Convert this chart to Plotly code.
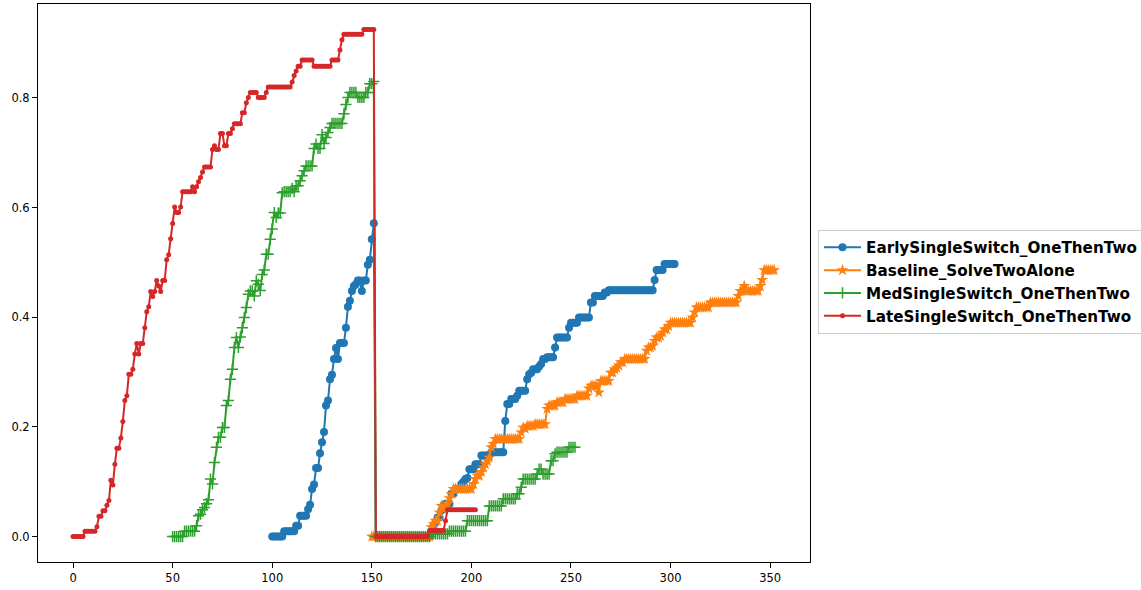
import plotly.graph_objects as go

# ---------------- data ----------------
# x positions are consecutive integers starting at each series' first x
early_x0 = 100
early_y = [
    0, 0, 0, 0, 0, 0, 0.01, 0.01, 0.01, 0.01,                                  # 100
    0.01, 0.01, 0.02, 0.02, 0.038, 0.038, 0.038, 0.038, 0.05, 0.058,            # 110
    0.087, 0.095, 0.125, 0.125, 0.152, 0.172, 0.191, 0.239, 0.248, 0.287,       # 120
    0.295, 0.324, 0.344, 0.324, 0.353, 0.353, 0.353, 0.381, 0.419, 0.43,        # 130
    0.448, 0.457, 0.46, 0.467, 0.467, 0.448, 0.467, 0.467, 0.4957, 0.505,       # 140
    0.5425, 0.5716,                                                             # 150
    0, 0, 0, 0, 0, 0, 0, 0,                                                     # 152
    0, 0, 0, 0, 0, 0, 0, 0, 0, 0,                                               # 160
    0, 0, 0, 0, 0, 0, 0, 0, 0, 0,                                               # 170
    0.01, 0.02, 0.026, 0.035, 0.035, 0.048, 0.057, 0.06, 0.06, 0.06,            # 180
    0.078, 0.078, 0.087, 0.087, 0.087, 0.096, 0.1, 0.105, 0.107, 0.123,         # 190
    0.123, 0.123, 0.132, 0.132, 0.132, 0.148, 0.148, 0.148, 0.148, 0.148,       # 200
    0.154, 0.154, 0.154, 0.154, 0.154, 0.154, 0.154, 0.211, 0.242, 0.242,       # 210
    0.251, 0.251, 0.251, 0.257, 0.266, 0.266, 0.266, 0.266, 0.287, 0.296,       # 220
    0.299, 0.305, 0.305, 0.305, 0.31, 0.315, 0.324, 0.324, 0.327, 0.327,       # 230
    0.327, 0.327, 0.345, 0.363, 0.363, 0.363, 0.363, 0.363, 0.363, 0.381,       # 240
    0.39, 0.39, 0.39, 0.39, 0.3997, 0.3997, 0.3997, 0.3997, 0.3997, 0.3997,     # 250
    0.427, 0.427, 0.439, 0.439, 0.439, 0.439, 0.439, 0.445, 0.445, 0.4495,      # 260
    0.4495, 0.4495, 0.4495, 0.4495, 0.4495, 0.4495, 0.4495, 0.4495, 0.4495, 0.4495,  # 270
    0.4495, 0.4495, 0.4495, 0.4495, 0.4495, 0.4495, 0.4495, 0.4495, 0.4495, 0.4495,  # 280
    0.4495, 0.4495, 0.468, 0.486, 0.486, 0.486, 0.486, 0.497, 0.497, 0.497,     # 290
    0.497, 0.497, 0.497,                                                        # 300
]

baseline_x0 = 150
baseline_y = [
    0, 0, 0, 0, 0, 0, 0, 0, 0, 0,                                               # 150
    0, 0, 0, 0, 0, 0, 0, 0, 0, 0,                                               # 160
    0, 0, 0, 0, 0, 0, 0, 0, 0, 0,                                               # 170
    0.017, 0.023, 0.029, 0.029, 0.044, 0.056, 0.05, 0.056, 0.06, 0.07,          # 180
    0.078, 0.087, 0.087, 0.087, 0.087, 0.087, 0.087, 0.087, 0.087, 0.087,       # 190
    0.087, 0.096, 0.105, 0.111, 0.111, 0.118, 0.126, 0.132, 0.138, 0.144,       # 200
    0.163, 0.169, 0.178, 0.178, 0.178, 0.178, 0.178, 0.178, 0.178, 0.178,       # 210
    0.178, 0.178, 0.178, 0.178, 0.178, 0.19, 0.199, 0.197, 0.202, 0.202,        # 220
    0.202, 0.202, 0.205, 0.205, 0.205, 0.205, 0.205, 0.205, 0.233, 0.239,       # 230
    0.239, 0.239, 0.239, 0.245, 0.245, 0.245, 0.245, 0.251, 0.251, 0.251,       # 240
    0.251, 0.251, 0.251, 0.257, 0.257, 0.257, 0.257, 0.257, 0.257, 0.27,        # 250
    0.275, 0.275, 0.275, 0.275, 0.263, 0.284, 0.284, 0.284, 0.284, 0.284,       # 260
    0.299, 0.299, 0.305, 0.308, 0.312, 0.318, 0.318, 0.324, 0.324, 0.324,       # 270
    0.324, 0.324, 0.324, 0.324, 0.324, 0.324, 0.324, 0.324, 0.339, 0.345,       # 280
    0.345, 0.348, 0.357, 0.363, 0.363, 0.366, 0.372, 0.378, 0.378, 0.384,       # 290
    0.39, 0.39, 0.39, 0.39, 0.39, 0.39, 0.39, 0.39, 0.39, 0.39,                 # 300
    0.39, 0.3997, 0.409, 0.418, 0.418, 0.418, 0.418, 0.418, 0.418, 0.418,       # 310
    0.427, 0.427, 0.427, 0.427, 0.427, 0.427, 0.427, 0.427, 0.427, 0.427,       # 320
    0.427, 0.427, 0.427, 0.427, 0.439, 0.448, 0.448, 0.457, 0.448, 0.448,       # 330
    0.448, 0.448, 0.448, 0.448, 0.448, 0.457, 0.468, 0.486, 0.486, 0.486,       # 340
    0.486, 0.486, 0.486,                                                        # 350
]

med_x0 = 50
med_y = [
    0, 0, 0, 0, 0, 0, 0.01, 0.01, 0.01, 0.01,                                   # 50
    0.01, 0.01, 0.02, 0.038, 0.041, 0.049, 0.053, 0.06, 0.067, 0.105,           # 60
    0.096, 0.135, 0.163, 0.181, 0.181, 0.199, 0.199, 0.239, 0.248, 0.287,       # 70
    0.305, 0.345, 0.363, 0.345, 0.364, 0.381, 0.3995, 0.418, 0.442, 0.448,      # 80
    0.448, 0.439, 0.4665, 0.46, 0.449, 0.478, 0.486, 0.515, 0.515, 0.5425,      # 90
    0.561, 0.591, 0.582, 0.59, 0.59, 0.627, 0.629, 0.629, 0.629, 0.629,         # 100
    0.635, 0.629, 0.64, 0.64, 0.649, 0.658, 0.667, 0.676, 0.676, 0.676,         # 110
    0.676, 0.708, 0.716, 0.708, 0.708, 0.733, 0.717, 0.728, 0.737, 0.746,       # 120
    0.7535, 0.7535, 0.7535, 0.7535, 0.7535, 0.7535, 0.771, 0.788, 0.801, 0.81,  # 130
    0.81, 0.81, 0.81, 0.801, 0.801, 0.801, 0.801, 0.81, 0.81, 0.826,            # 140
    0.826, 0.83,                                                                # 150
    0, 0, 0, 0, 0, 0, 0, 0,                                                     # 152
    0, 0, 0, 0, 0, 0, 0, 0, 0, 0,                                               # 160
    0, 0, 0, 0, 0, 0, 0, 0, 0, 0,                                               # 170
    0.005, 0.005, 0.005, 0.005, 0.005, 0.005, 0.005, 0.005, 0.005, 0.01,        # 180
    0.01, 0.01, 0.01, 0.01, 0.01, 0.01, 0.01, 0.01, 0.029, 0.029,               # 190
    0.029, 0.029, 0.029, 0.029, 0.029, 0.029, 0.029, 0.029, 0.029, 0.056,       # 200
    0.056, 0.056, 0.056, 0.056, 0.056, 0.056, 0.069, 0.069, 0.069, 0.069,       # 210
    0.069, 0.069, 0.069, 0.078, 0.078, 0.09, 0.105, 0.105, 0.105, 0.105,        # 220
    0.105, 0.105, 0.105, 0.114, 0.123, 0.123, 0.114, 0.114, 0.114, 0.114,       # 230
    0.1385, 0.1385, 0.151, 0.154, 0.154, 0.154, 0.154, 0.154, 0.154, 0.163,     # 240
    0.163, 0.163, 0.163,                                                        # 250
]

late_x0 = 0
late_y = [
    0, 0, 0, 0, 0, 0, 0.01, 0.01, 0.01, 0.01,                                   # 0
    0.01, 0.01, 0.018, 0.037, 0.037, 0.047, 0.047, 0.057, 0.066, 0.103,         # 10
    0.094, 0.132, 0.161, 0.161, 0.18, 0.21, 0.248, 0.257, 0.296, 0.296,         # 20
    0.305, 0.333, 0.352, 0.333, 0.352, 0.352, 0.381, 0.41, 0.419, 0.447,        # 30
    0.438, 0.447, 0.467, 0.457, 0.447, 0.467, 0.467, 0.505, 0.514, 0.543,       # 40
    0.571, 0.601, 0.591, 0.591, 0.601, 0.629, 0.629, 0.629, 0.629, 0.629,       # 50
    0.638, 0.629, 0.638, 0.647, 0.655, 0.665, 0.674, 0.674, 0.674, 0.674,       # 60
    0.706, 0.713, 0.706, 0.706, 0.735, 0.735, 0.713, 0.713, 0.735, 0.735,       # 70
    0.744, 0.753, 0.753, 0.753, 0.753, 0.773, 0.773, 0.791, 0.801, 0.81,        # 80
    0.81, 0.81, 0.81, 0.801, 0.801, 0.801, 0.801, 0.81, 0.82, 0.82,             # 90
    0.82, 0.82, 0.82, 0.82, 0.82, 0.82, 0.82, 0.82, 0.82, 0.82,                 # 100
    0.829, 0.841, 0.849, 0.858, 0.858, 0.869, 0.869, 0.869, 0.869, 0.869,       # 110
    0.869, 0.858, 0.858, 0.858, 0.858, 0.858, 0.858, 0.858, 0.858, 0.858,       # 120
    0.869, 0.869, 0.869, 0.869, 0.8875, 0.906, 0.916, 0.916, 0.916, 0.916,      # 130
    0.916, 0.916, 0.916, 0.916, 0.916, 0.916, 0.925, 0.925, 0.925, 0.925,       # 140
    0.925, 0.925,                                                               # 150
    0, 0, 0, 0, 0, 0, 0, 0,                                                     # 152
    0, 0, 0, 0, 0, 0, 0, 0, 0, 0,                                               # 160
    0, 0, 0, 0, 0, 0, 0, 0, 0, 0.011,                                           # 170
    0.011, 0.011, 0.011, 0.011, 0.011, 0.011, 0.011, 0.029, 0.049, 0.049,       # 180
    0.049, 0.049, 0.049, 0.049, 0.049, 0.049, 0.049, 0.049, 0.049, 0.049,       # 190
    0.049, 0.049, 0.049,                                                        # 200
]

series_names = [
    "EarlySingleSwitch_OneThenTwo",
    "Baseline_SolveTwoAlone",
    "MedSingleSwitch_OneThenTwo",
    "LateSingleSwitch_OneThenTwo",
]
x_tick_vals = [0, 50, 100, 150, 200, 250, 300, 350]
y_tick_vals = [0.0, 0.2, 0.4, 0.6, 0.8]

# ---------------- styling ----------------
colors = ["#1f77b4", "#ff7f0e", "#2ca02c", "#d62728"]
starts = [early_x0, baseline_x0, med_x0, late_x0]
values = [early_y, baseline_y, med_y, late_y]
markers = [
    dict(symbol="circle", size=8, line=dict(width=0)),
    dict(symbol="star", size=9, line=dict(width=0)),
    dict(symbol="cross-thin", size=8, line=dict(width=1.5)),
    dict(symbol="circle", size=5, line=dict(width=0)),
]

fig = go.Figure()
for name, c, x0, ys, mk in zip(series_names, colors, starts, values, markers):
    xs = list(range(x0, x0 + len(ys)))
    m = dict(mk)
    m["color"] = c
    m["line"] = dict(mk["line"], color=c)
    fig.add_trace(go.Scatter(
        x=xs, y=ys, name=name, mode="lines+markers",
        line=dict(color=c, width=2),
        marker=m,
    ))

axis_common = dict(
    showgrid=False, zeroline=False, showline=True, mirror=True,
    linecolor="black", linewidth=1,
    ticks="outside", ticklen=5, tickwidth=1, tickcolor="black",
    tickfont=dict(family="DejaVu Sans", size=11.5, color="black"),
)

fig.update_layout(
    width=1141, height=590,
    margin=dict(l=38, r=331, t=4, b=28, autoexpand=False),
    paper_bgcolor="white", plot_bgcolor="white",
    showlegend=True,
    legend=dict(
        x=1.0104, y=0.595, xanchor="left", yanchor="top",
        itemwidth=37,
        bgcolor="white", bordercolor="#cccccc", borderwidth=1,
        font=dict(family="DejaVu Sans", size=15.2, color="black", weight="bold"),
    ),
    xaxis=dict(axis_common, range=[-17.6, 370.0], tickvals=x_tick_vals,
               ticktext=[str(v) for v in x_tick_vals]),
    yaxis=dict(axis_common, range=[-0.0463, 0.9713], tickvals=y_tick_vals,
               ticktext=["%.1f" % v for v in y_tick_vals]),
)

fig.write_html(
    "out.html",
    config={"displayModeBar": False},
    post_script="document.body.style.margin='0';document.body.style.overflow='hidden';",
)
